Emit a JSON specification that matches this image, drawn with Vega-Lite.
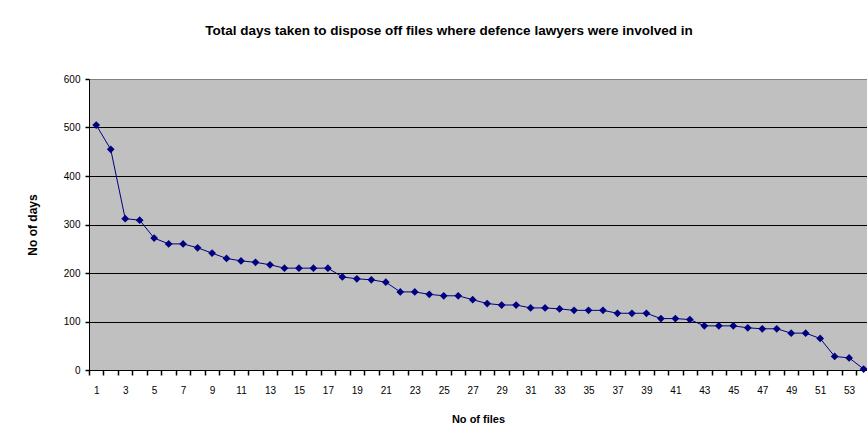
{
  "$schema": "https://vega.github.io/schema/vega-lite/v6.json",
  "width": 778,
  "height": 291,
  "autosize": {"type": "none"},
  "padding": {"left": 89, "top": 79, "right": 0, "bottom": 76},
  "background": "white",
  "title": {
    "text": "Total days taken to dispose off files where defence lawyers were involved in",
    "font": "Liberation Sans",
    "fontSize": 13.5,
    "fontWeight": "bold",
    "color": "black",
    "anchor": "middle",
    "offset": 37,
    "dx": -29
  },
  "data": {
    "values": [
      {"file": 1, "days": 505}, {"file": 2, "days": 455}, {"file": 3, "days": 312},
      {"file": 4, "days": 309}, {"file": 5, "days": 272}, {"file": 6, "days": 260},
      {"file": 7, "days": 260}, {"file": 8, "days": 252}, {"file": 9, "days": 241},
      {"file": 10, "days": 230}, {"file": 11, "days": 225}, {"file": 12, "days": 222},
      {"file": 13, "days": 217}, {"file": 14, "days": 210}, {"file": 15, "days": 210},
      {"file": 16, "days": 210}, {"file": 17, "days": 210}, {"file": 18, "days": 192},
      {"file": 19, "days": 188}, {"file": 20, "days": 186}, {"file": 21, "days": 181},
      {"file": 22, "days": 161}, {"file": 23, "days": 161}, {"file": 24, "days": 156},
      {"file": 25, "days": 153}, {"file": 26, "days": 153}, {"file": 27, "days": 145},
      {"file": 28, "days": 137}, {"file": 29, "days": 134}, {"file": 30, "days": 134},
      {"file": 31, "days": 128}, {"file": 32, "days": 128}, {"file": 33, "days": 126},
      {"file": 34, "days": 123}, {"file": 35, "days": 123}, {"file": 36, "days": 123},
      {"file": 37, "days": 117}, {"file": 38, "days": 117}, {"file": 39, "days": 117},
      {"file": 40, "days": 106}, {"file": 41, "days": 106}, {"file": 42, "days": 104},
      {"file": 43, "days": 91}, {"file": 44, "days": 91}, {"file": 45, "days": 91},
      {"file": 46, "days": 87}, {"file": 47, "days": 85}, {"file": 48, "days": 85},
      {"file": 49, "days": 76}, {"file": 50, "days": 76}, {"file": 51, "days": 65},
      {"file": 52, "days": 28}, {"file": 53, "days": 25}, {"file": 54, "days": 2}
    ]
  },
  "mark": {
    "type": "line",
    "color": "#000080",
    "strokeWidth": 1,
    "clip": false,
    "point": {"shape": "diamond", "filled": true, "size": 60, "color": "#000080", "opacity": 1}
  },
  "encoding": {
    "x": {
      "field": "file",
      "type": "quantitative",
      "scale": {"domain": [0.5, 54.235], "nice": false, "zero": false},
      "axis": {
        "title": "No of files",
        "values": [0.5, 1.5, 2.5, 3.5, 4.5, 5.5, 6.5, 7.5, 8.5, 9.5, 10.5, 11.5, 12.5, 13.5, 14.5, 15.5, 16.5, 17.5, 18.5, 19.5, 20.5, 21.5, 22.5, 23.5, 24.5, 25.5, 26.5, 27.5, 28.5, 29.5, 30.5, 31.5, 32.5, 33.5, 34.5, 35.5, 36.5, 37.5, 38.5, 39.5, 40.5, 41.5, 42.5, 43.5, 44.5, 45.5, 46.5, 47.5, 48.5, 49.5, 50.5, 51.5, 52.5, 53.5],
        "labelExpr": "(datum.value + 0.5) % 2 == 1 ? format(datum.value + 0.5, 'd') : ''",
        "labelOffset": 7.24,
        "ticks": true,
        "tickColor": "black",
        "tickOpacity": 1,
        "tickWidth": 1.5,
        "tickSize": 5,
        "domainColor": "black",
        "labelOverlap": false,
        "labelFlush": false,
        "labelBound": false,
        "grid": false,
        "labelPadding": 10,
        "titlePadding": 18
      }
    },
    "y": {
      "field": "days",
      "type": "quantitative",
      "scale": {"domain": [0, 600], "nice": false},
      "axis": {
        "title": "No of days",
        "values": [0, 100, 200, 300, 400, 500, 600],
        "grid": true,
        "gridColor": {"condition": {"test": "datum.value == 600", "value": "#808080"}, "value": "black"},
        "gridOpacity": 1,
        "tickColor": "black",
        "tickWidth": 1.5,
        "tickSize": 4,
        "labelPadding": 5,
        "titlePadding": 24
      }
    }
  },
  "config": {
    "view": {"fill": "#C0C0C0", "stroke": "#808080", "strokeWidth": 1},
    "axis": {
      "domainColor": "black",
      "labelColor": "black",
      "titleColor": "black",
      "labelFont": "Liberation Sans",
      "labelFontSize": 10,
      "titleFont": "Liberation Sans",
      "titleFontSize": 11,
      "titleFontWeight": "bold",
      "gridWidth": 1,
      "domainWidth": 1
    },
    "axisY": {"titleFontSize": 12}
  }
}
